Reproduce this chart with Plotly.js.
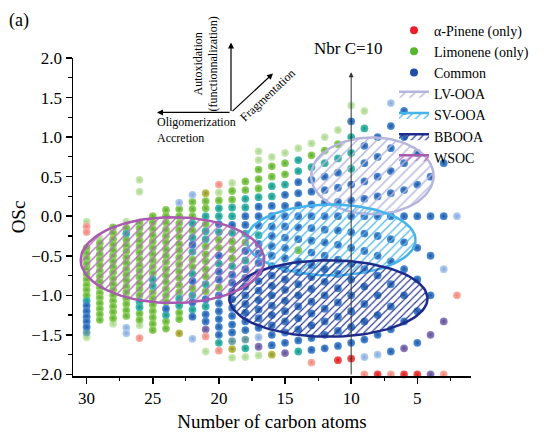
<!DOCTYPE html>
<html><head><meta charset="utf-8">
<script src="https://cdn.plot.ly/plotly-3.0.1.min.js"></script>
<style>html,body{margin:0;padding:0;background:#fff}#chart{width:549px;height:432px}</style>
</head><body><div id="chart"></div>
<script>
// ---- Data: [carbon number, [OSc values]] ----
const lightGreenPts = [[30,[-0.07,-1.53]],[29,[-0.28]],[28,[-1.36]],[27,[-0.07]],[26,[0.46,0.31,-1.38]],[21,[-1.71]],[20,[0.30]],[19,[0.42,-1.79]],[18,[-1.78]],[17,[0.82,0.71,-1.76]],[16,[0.75]],[15,[0.80]],[14,[0.86]],[13,[0.92]],[12,[1.00]],[11,[1.09]],[10,[1.40]],[9,[1.33]]];
const greenPts = [
 [30,[-0.40,-0.47,-0.53,-0.60,-0.67,-0.73,-0.80,-0.87,-0.93,-1.00]],
 [29,[-0.34,-0.41,-0.48,-0.55,-0.62,-0.69,-0.76,-0.83,-0.90,-0.97,-1.03,-1.10,-1.17,-1.24,-1.31]],
 [28,[-0.14,-0.21,-0.29,-0.36,-0.43,-0.50,-0.57,-0.64,-0.71,-0.79,-0.86,-0.93,-1.00,-1.07,-1.14,-1.21,-1.29]],
 [27,[-0.15,-0.30,-0.37,-0.44,-0.52,-0.59,-0.67,-0.74,-0.81,-0.89,-0.96,-1.04,-1.11,-1.19,-1.26]],
 [26,[-0.08,-0.15,-0.23,-0.31,-0.38,-0.46,-0.54,-0.62,-0.69,-0.77,-0.85,-0.92,-1.00,-1.23,-1.31]],
 [25,[0.00,-0.08,-0.16,-0.24,-0.32,-0.40,-0.48,-0.56,-0.64,-0.72,-0.96,-1.04,-1.12,-1.20,-1.28,-1.36,-1.44]],
 [24,[0.08,0.00,-0.08,-0.17,-0.25,-0.33,-0.42,-0.50,-0.58,-0.67,-0.75,-0.83,-0.92,-1.00,-1.08,-1.33,-1.42]],
 [23,[0.09,0.00,-0.09,-0.17,-0.26,-0.35,-0.43,-0.52,-0.61,-0.70,-0.78,-0.87,-0.96,-1.22,-1.30]],
 [22,[0.18,0.09,0.00,-0.18,-0.55,-0.64,-0.91]],
 [21,[0.19,0.10,-0.10,-0.38,-0.48,-0.57,-0.67,-0.76,-0.95]],
 [20,[0.20,-0.30,-0.40,-0.90]],
 [19,[0.32,0.21,-0.32,-0.42,-0.53]],
 [18,[0.44,0.33,-0.33]],
 [17,[0.59,0.47,0.35]],
 [16,[0.63,0.50]],
 [15,[0.67,0.53]],
 [14,[-0.43]],
 [13,[0.77]],
 [12,[0.83]],
 [11,[0.91]]
];
const tealPts = [[30,[-1.07]],[27,[-0.22]],[26,[-1.08,-1.15]],[25,[-0.80,-0.88]],[24,[-1.25]],[23,[-1.04,-1.13]],[22,[-0.09,-0.27,-0.45,-0.73,-1.00,-1.18]],[21,[0.00,-0.19,-0.29,-0.86,-1.14]],[20,[0.10,0.00,-0.20,-0.60,-1.60]],[19,[0.11,0.00,-0.21,-0.63]],[18,[0.22,0.11,-0.22,-0.56,-1.67]],[17,[0.24,-0.24]],[16,[0.38,0.25]],[15,[0.40]],[14,[0.71,0.57,-1.71]],[13,[0.62]],[12,[0.67]],[11,[0.73]],[10,[1.00,0.80,0.60]],[9,[1.11]]];
const bluePts = [
 [30,[-1.13,-1.20,-1.27,-1.33,-1.40]],
 [24,[-1.17]],
 [22,[-0.36,-0.82,-1.09,-1.27]],
 [21,[-1.05,-1.24,-1.33]],
 [20,[-0.10,-0.50,-0.70,-0.80,-1.00,-1.10,-1.20,-1.30,-1.40,-1.50]],
 [19,[-0.11,-0.74,-0.84,-0.95,-1.05,-1.16,-1.26,-1.37,-1.47]],
 [18,[0.00,-0.11,-0.44,-0.67,-0.78,-0.89,-1.00,-1.11,-1.22,-1.33,-1.44]],
 [17,[0.12,0.00,-0.12,-0.35,-0.47,-0.59,-0.71,-0.82,-0.94,-1.06,-1.18,-1.29,-1.41]],
 [16,[0.13,0.00,-0.13,-0.25,-0.38,-0.50,-0.63,-0.75,-0.88,-1.00,-1.13,-1.25,-1.38,-1.50,-1.63]],
 [15,[0.27,0.13,0.00,-0.13,-0.27,-0.40,-0.53,-0.67,-0.80,-0.93,-1.07,-1.20,-1.33,-1.47,-1.60]],
 [14,[0.43,0.29,0.14,0.00,-0.14,-0.29,-0.57,-0.71,-0.86,-1.00,-1.14,-1.29,-1.43,-1.57]],
 [13,[0.46,0.31,0.15,0.00,-0.15,-0.31,-0.46,-0.62,-0.77,-0.92,-1.08,-1.23,-1.38,-1.54,-1.69]],
 [12,[0.50,0.33,0.17,0.00,-0.17,-0.33,-0.50,-0.67,-0.83,-1.00,-1.17,-1.33,-1.50,-1.67]],
 [11,[0.55,0.36,0.18,0.00,-0.18,-0.36,-0.55,-0.73,-0.91,-1.09,-1.27,-1.45,-1.64]],
 [10,[1.20,0.40,0.20,0.00,-0.20,-0.40,-0.60,-0.80,-1.00,-1.20,-1.40,-1.60]],
 [9,[0.89,0.67,0.44,0.22,0.00,-0.22,-0.44,-0.67,-0.89,-1.11,-1.33,-1.56]],
 [8,[1.00,0.75,0.50,0.25,0.00,-0.25,-0.50,-0.75,-1.00,-1.25,-1.50]],
 [7,[1.14,0.86,0.57,0.29,0.00,-0.29,-0.57,-0.86,-1.14,-1.43,-1.71]],
 [6,[1.33,1.00,0.67,0.33,0.00,-0.33,-0.67,-1.00,-1.33]],
 [5,[0.80,0.40,0.00,-0.40,-0.80,-1.20,-1.60]],
 [4,[0.50,0.00,-0.50,-1.00]],
 [3,[0.67,0.00]]
];
const lightBluePts = [[27,[-1.41,-1.48]],[23,[0.17]],[22,[0.27,-1.55]],[17,[-1.53]],[9,[-1.78]],[8,[-1.75]],[7,[1.43]],[3,[-0.67]],[2,[0.00]]];
const purplePts = [[21,[-1.43]],[17,[-1.65]],[15,[-1.73]],[6,[-1.67]],[4,[-1.50,-2.00]],[3,[-1.33]]];
const olivePts = [[23,[-1.48]],[21,[0.29]],[19,[-1.68]],[16,[-1.75]]];
const greyTealPts = [[30,[-1.47]],[19,[-1.58]],[18,[-1.56]]];
const lightRedPts = [[30,[-0.13,-0.20]],[26,[-1.54]],[21,[-1.52]],[20,[0.40,-1.70]],[13,[-1.85]],[9,[-2.00]],[7,[-2.00]],[3,[-2.00]],[2,[-1.00]]];
const redPts = [[11,[-1.82]],[10,[-1.80]],[8,[-2.00]],[6,[-2.00]],[5,[-2.00]]];

const legendNames = ['α-Pinene (only)','Limonene (only)','Common'];

// Ellipses (region outlines): centre / radii in data units
const ellNames = ['LV-OOA','SV-OOA','BBOOA','WSOC'];
const ellCx = [8.40, 11.53, 11.72, 23.51];
const ellCy = [0.51, -0.30, -1.04, -0.555];
const ellRx = [4.63, 6.40, 7.49, 6.94];
const ellRy = [0.486, 0.448, 0.483, 0.543];

// ---- Styles ----
const groupDefs = [
 [lightGreenPts,'#d0ebbd','#a6d588'],
 [greenPts,'#98d468','#58ad2b'],
 [tealPts,'#4cc2b2','#14948a'],
 [greyTealPts,'#82b4ba','#4f8790'],
 [olivePts,'#c4c65a','#8f922a'],
 [purplePts,'#9484c2','#5d4e95'],
 [lightBluePts,'#b8d0f0','#83a8dd'],
 [bluePts,'#5392d8','#1d56a4'],
 [lightRedPts,'#f9b4ac','#ef8276'],
 [redPts,'#f55c5c','#d91c1c']
];
const ellLine = ['#b6b6dd','#46b4ea','#1e2b8a','#a85aae'];
const ellHatch = ['#b9b9de','#52b9ea','#26358f','#b46cbc'];
const ellHatchSize = [7,6,5,6];
const legendColors = ['#e8202a','#55b630','#1f4ea5'];

const traces = [];
groupDefs.forEach(([pts,cIn,cOut])=>{
  const xs=[],ys=[];
  pts.forEach(([c,arr])=>arr.forEach(v=>{xs.push(c);ys.push(v);}));
  traces.push({type:'scatter',mode:'markers',x:xs,y:ys,showlegend:false,hoverinfo:'x+y',cliponaxis:false,
    marker:{size:7.8,color:cIn,gradient:{type:'radial',color:cOut},line:{width:0}}});
});
legendNames.forEach((n,i)=>{
  traces.push({type:'scatter',mode:'markers',x:[null],y:[null],name:n,legendrank:i+1,
    marker:{size:8,color:legendColors[i]}});
});
ellNames.forEach((n,i)=>{
  const xs=[],ys=[];
  for(let t=0;t<=360;t+=3){const a=t*Math.PI/180;xs.push(ellCx[i]+ellRx[i]*Math.cos(a));ys.push(ellCy[i]+ellRy[i]*Math.sin(a));}
  traces.push({type:'scatter',mode:'lines',x:xs,y:ys,name:n,legendrank:10+i,fill:'toself',
    fillcolor:'rgba(0,0,0,0)',hoverinfo:'skip',
    fillpattern:{shape:'/',fgcolor:ellHatch[i],bgcolor:'rgba(0,0,0,0)',size:ellHatchSize[i],solidity:0.22},
    line:{color:ellLine[i],width:2.5}});
});

// pixel -> paper helpers (plot area 73..471 x 57.5..376)
const L=73,R=471,T=57.5,B=376;
const px=x=>(x-L)/(R-L), py=y=>(B-y)/(B-T);
const FF='Liberation Serif, Times New Roman, Times, serif';
const txt=(x,y,text,size,extra)=>Object.assign({xref:'paper',yref:'paper',x:px(x),y:py(y),xanchor:'center',yanchor:'middle',text:text,showarrow:false,font:{size:size,family:FF,color:'#000'}},extra||{});
const arrowBase={xref:'paper',yref:'paper',showarrow:true,text:'',arrowhead:2,arrowsize:1,arrowwidth:1.2,arrowcolor:'#000',standoff:0,startstandoff:0};
const annotations=[
  txt(19,20,'(a)',18),
  txt(348,48,'Nbr C=10',17),
  {xref:'x',yref:'y',axref:'x',ayref:'y',x:10,y:1.82,ax:10,ay:-2.02,showarrow:true,text:'',arrowhead:2,arrowsize:1,arrowwidth:1,arrowcolor:'#333'},
  Object.assign({x:px(231),y:py(42),ax:0,ay:70},arrowBase),
  Object.assign({x:px(157),y:py(112),ax:74,ay:0},arrowBase),
  Object.assign({x:px(273),y:py(73),ax:-42,ay:39},arrowBase),
  txt(206,64,'Autoxidation<br>(functionnalization)',12,{textangle:-90}),
  txt(155,113,'Oligomerization<br>Accretion',12,{xanchor:'left',yanchor:'top',align:'left'}),
  txt(268,95,'Fragmentation',12,{textangle:-43})
];

const layout={
  width:549,height:432,
  margin:{l:L,r:549-R,t:T,b:432-B,pad:0,autoexpand:false},
  paper_bgcolor:'#fff',plot_bgcolor:'#fff',
  font:{family:FF,color:'#000',size:17},
  showlegend:true,
  legend:{x:px(394),y:py(14),xanchor:'left',yanchor:'top',bgcolor:'rgba(0,0,0,0)',font:{size:14,family:FF,color:'#000'},itemwidth:30,tracegroupgap:0},
  xaxis:{range:[31.03,0.94],showgrid:false,zeroline:false,showline:true,linecolor:'#000',linewidth:1.5,
    ticks:'outside',ticklen:6,tickwidth:1.5,tickcolor:'#000',tickvals:[30,25,20,15,10,5],
    minor:{tickvals:[27.5,22.5,17.5,12.5,7.5,2.5],ticklen:3.5,tickwidth:1.2,tickcolor:'#000',ticks:'outside'},
    tickfont:{size:17,family:FF,color:'#000'},title:{text:'Number of carbon atoms',font:{size:19,family:FF,color:'#000'},standoff:10}},
  yaxis:{range:[-2.02,2.0],showgrid:false,zeroline:false,showline:true,linecolor:'#000',linewidth:1.5,
    ticks:'outside',ticklen:6,tickwidth:1.5,tickcolor:'#000',dtick:0.5,tick0:0,tickformat:'.1f',
    minor:{dtick:0.25,ticklen:3.5,tickwidth:1.2,tickcolor:'#000',ticks:'outside'},
    tickfont:{size:17,family:FF,color:'#000'},title:{text:'OSc',font:{size:19,family:FF,color:'#000'},standoff:0}},
  annotations:annotations
};
Plotly.newPlot('chart',traces,layout,{displayModeBar:false,staticPlot:true});
</script></body></html>
